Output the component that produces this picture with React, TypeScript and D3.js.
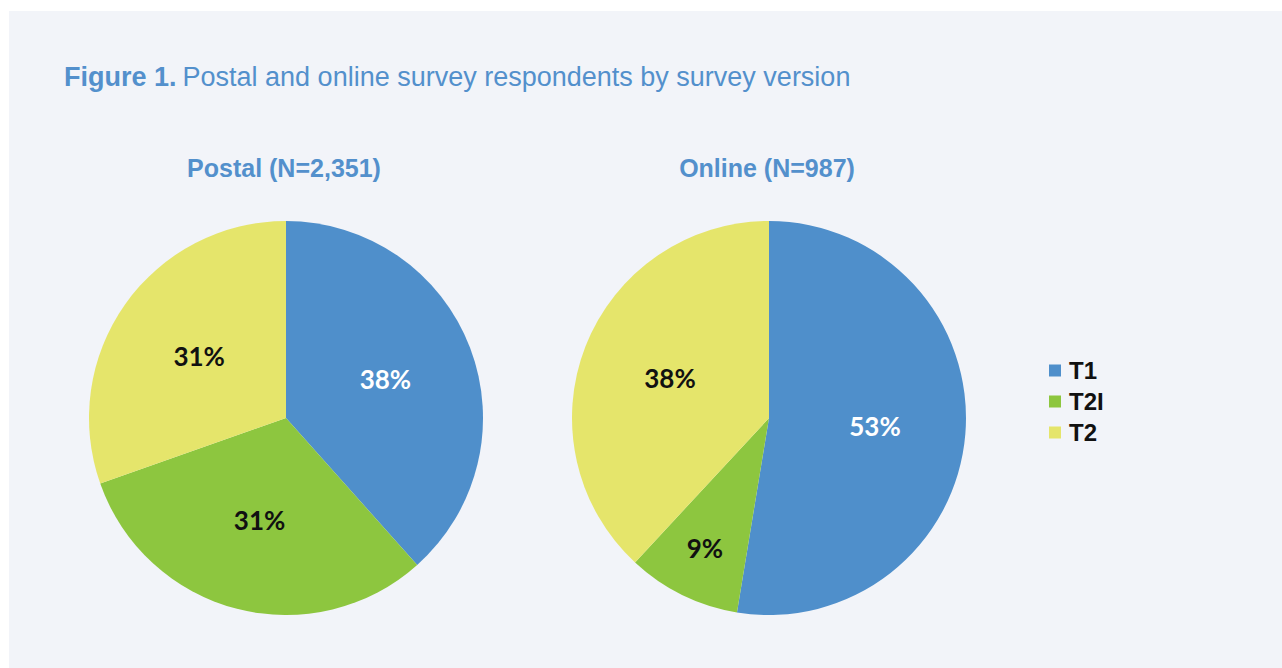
import React from "react";
import * as d3 from "d3";

const categories = ["T1", "T2I", "T2"];
const postalValues = [38.4, 31.2, 30.4];
const onlineValues = [52.6, 9.3, 38.1];
const postalLabels = ["38%", "31%", "31%"];
const onlineLabels = ["53%", "9%", "38%"];
const charts = [
  { title: "Postal (N=2,351)", values: postalValues, labels: postalLabels },
  { title: "Online (N=987)", values: onlineValues, labels: onlineLabels },
];

const COLORS = ["#4f8fcb", "#8dc63f", "#e5e56b"];
const LABEL_COLORS = ["#ffffff", "#111111", "#111111"];
const W = 1282;
const H = 668;

export default function App() {
  const r = 197;
  const centers = [286, 769];
  const cy = 418;
  const pie = d3.pie<number>().sort(null).value((d) => d);
  const arc = d3.arc<d3.PieArcDatum<number>>().innerRadius(0).outerRadius(r);
  const condensed = "'Liberation Sans Narrow', 'Arial Narrow', 'Liberation Sans', sans-serif";
  const legendY = d3.scaleBand<string>().domain(categories).range([355, 448]);
  return (
    <svg width={W} height={H} style={{ position: "absolute", left: 0, top: 0 }}>
      <rect x={0} y={0} width={W} height={H} fill="#ffffff" />
      <rect x={9} y={11} width={W - 9} height={H - 11} fill="#f2f4f9" />
      <text x={64} y={86} fontFamily={condensed} fontSize={27} fill="#5390cc">
        <tspan fontWeight="bold">Figure 1.</tspan>
        <tspan dx={6}>Postal and online survey respondents by survey version</tspan>
      </text>
      {charts.map((c, ci) => {
        const arcs = pie(c.values);
        const cx = centers[ci];
        return (
          <g key={c.title}>
            <text x={cx - 2} y={177} textAnchor="middle" fontFamily={condensed} fontWeight="bold" fontSize={25} fill="#5390cc">
              {c.title}
            </text>
            <g transform={`translate(${cx},${cy})`}>
              {arcs.map((a, i) => (
                <path key={i} d={arc(a) || ""} fill={COLORS[i]} />
              ))}
              {arcs.map((a, i) => {
                const share = (a.endAngle - a.startAngle) / (2 * Math.PI);
                const lr = r * (share < 0.15 ? 0.74 : 0.54);
                const mid = (a.startAngle + a.endAngle) / 2;
                const x = Math.sin(mid) * lr;
                const y = -Math.cos(mid) * lr;
                return (
                  <text key={"l" + i} x={x} y={y} dy="0.35em" textAnchor="middle" fontFamily="Lato, 'Open Sans', sans-serif" fontWeight="bold" fontSize={26} fill={LABEL_COLORS[i]}>
                    {c.labels[i]}
                  </text>
                );
              })}
            </g>
          </g>
        );
      })}
      {categories.map((cat, i) => {
        const y = (legendY(cat) || 0) + legendY.bandwidth() / 2;
        return (
          <g key={cat}>
            <rect x={1049} y={y - 6} width={12} height={12} fill={COLORS[i]} />
            <text x={1069} y={y} dy="0.36em" fontFamily="'Liberation Sans', Arial, sans-serif" fontWeight="bold" fontSize={24} fill="#111111">
              {cat}
            </text>
          </g>
        );
      })}
    </svg>
  );
}
